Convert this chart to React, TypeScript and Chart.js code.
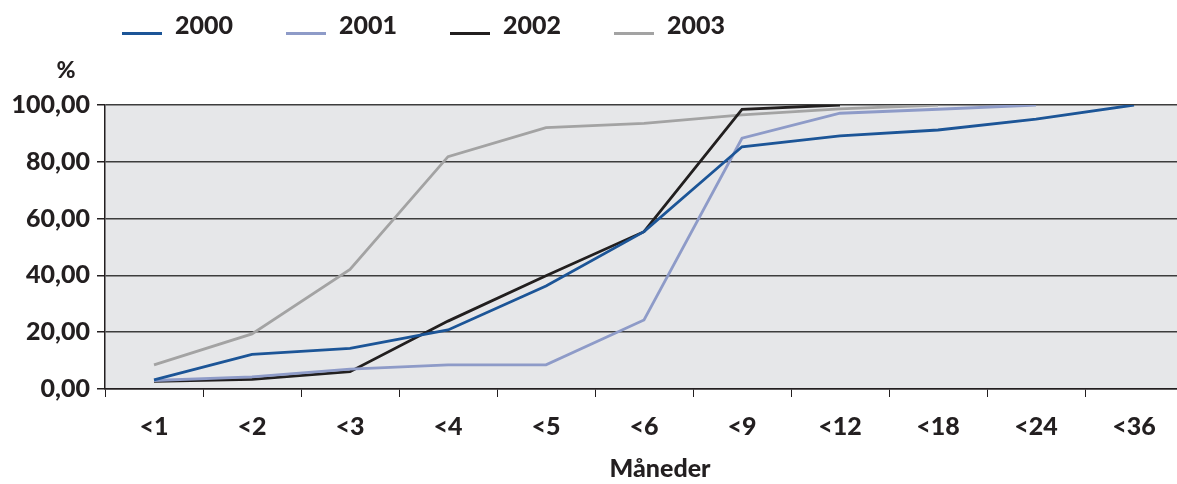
import React, { useEffect, useRef } from "react";
import { Chart, registerables } from "chart.js";

Chart.register(...registerables);

const categories = ["<1", "<2", "<3", "<4", "<5", "<6", "<9", "<12", "<18", "<24", "<36"];
const years = ["2000", "2001", "2002", "2003"];
const values2000 = [3.2, 12.2, 14.3, 20.8, 36.3, 55.4, 85.3, 89.1, 91.2, 95.0, 100.0];
const values2001 = [3.0, 4.3, 7.0, 8.5, 8.5, 24.3, 88.3, 97.1, 98.5, 100.0, null];
const values2002 = [2.7, 3.4, 6.1, 23.9, 39.9, 55.4, 98.5, 100.0, null, null, null];
const values2003 = [8.5, 19.4, 42.1, 81.8, 92.0, 93.5, 96.5, 98.6, 100.0, null, null];
const yTicks = [0, 20, 40, 60, 80, 100];
const xAxisTitle = "Måneder";
const unitLabel = "%";

const colors = ["#1c5597", "#8e9bc8", "#221f1f", "#a3a3a3"];
const FONT = "Lato, 'Open Sans', sans-serif";

// Grey plot background behind the lines
const plotBackground = {
  id: "plotBackground",
  beforeDraw(chart: any) {
    const { ctx, chartArea } = chart;
    ctx.save();
    ctx.fillStyle = "#e6e7e9";
    ctx.fillRect(chartArea.left, chartArea.top, chartArea.right - chartArea.left, chartArea.bottom - chartArea.top);
    ctx.restore();
  },
};

// Legend row across the top, the "%" unit label and the month axis title
const extraLabels = {
  id: "extraLabels",
  afterDraw(chart: any) {
    const { ctx } = chart;
    ctx.save();
    chart.data.datasets.forEach((ds: any, i: number) => {
      const x0 = 122 + i * 164;
      ctx.strokeStyle = ds.borderColor;
      ctx.lineWidth = 3;
      ctx.beginPath();
      ctx.moveTo(x0, 33.5);
      ctx.lineTo(x0 + 40, 33.5);
      ctx.stroke();
      ctx.fillStyle = "#231f20";
      ctx.font = `900 25px ${FONT}`;
      ctx.textBaseline = "middle";
      ctx.textAlign = "left";
      ctx.fillText(ds.label, x0 + 53, 26);
    });
    ctx.font = `900 23px ${FONT}`;
    ctx.textAlign = "center";
    ctx.fillText(unitLabel, 66, 71);
    ctx.font = `900 25px ${FONT}`;
    ctx.fillText(xAxisTitle, 660, 469);
    ctx.restore();
  },
};

export default function App() {
  const canvasRef = useRef<HTMLCanvasElement | null>(null);

  useEffect(() => {
    if (!canvasRef.current) return;
    const series = [values2000, values2001, values2002, values2003];
    const chart = new Chart(canvasRef.current, {
      type: "line",
      data: {
        labels: categories,
        datasets: series.map((data, i) => ({
          label: years[i],
          data,
          borderColor: colors[i],
          backgroundColor: colors[i],
          borderWidth: 2.8,
          pointRadius: 0,
          tension: 0,
          spanGaps: false,
        })),
      },
      options: {
        animation: false,
        responsive: false,
        layout: { padding: { top: 105, left: 0, right: 0, bottom: 0 } },
        plugins: {
          legend: { display: false },
          tooltip: { enabled: false },
        },
        scales: {
          x: {
            offset: true,
            afterFit: (scale: any) => {
              scale.height = 95;
            },
            grid: {
              display: true,
              offset: true,
              drawOnChartArea: false,
              drawTicks: true,
              tickLength: 8,
              color: "#231f20",
              lineWidth: 1,
            },
            border: { display: true, color: "#231f20", width: 1.5 },
            ticks: {
              color: "#231f20",
              font: { family: FONT, size: 25, weight: "900" },
              padding: 15,
              maxRotation: 0,
            },
          },
          y: {
            min: 0,
            max: 100,
            afterFit: (scale: any) => {
              scale.width = 105;
            },
            afterBuildTicks: (scale: any) => {
              scale.ticks = yTicks.map((v) => ({ value: v }));
            },
            grid: {
              color: "#3d3d3d",
              lineWidth: 1.5,
              tickLength: 8,
              tickColor: "#231f20",
            },
            border: { display: true, color: "#231f20", width: 1.5 },
            ticks: {
              color: "#231f20",
              font: { family: FONT, size: 25, weight: "900" },
              padding: 7,
              callback: (v: any) => Number(v).toFixed(2).replace(".", ","),
            },
          },
        },
      },
      plugins: [plotBackground, extraLabels],
    });
    return () => chart.destroy();
  }, []);

  return (
    <div
      style={{
        position: "fixed",
        left: 0,
        top: 0,
        width: 1177,
        height: 484,
        overflow: "hidden",
        background: "#ffffff",
      }}
    >
      <canvas ref={canvasRef} width={1183} height={484} />
    </div>
  );
}
